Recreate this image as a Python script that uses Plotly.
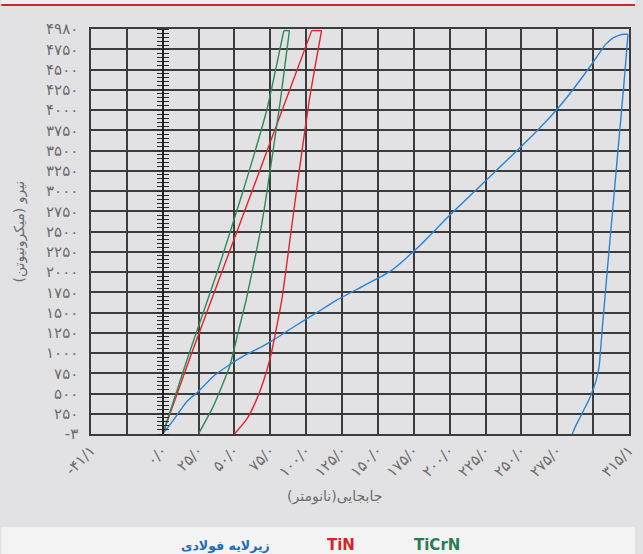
import plotly.graph_objects as go

# ---- data: displacement (nm) vs. force (micro-newton) ----
steel_load_x = [0, 7.7, 16.8, 24.9, 35.2, 46.6, 58, 69.5, 77.5, 92, 107.3, 121, 140, 158.8, 180, 200, 230, 258.4, 274.4, 285.9, 299.6, 308.7, 314, 318.5, 321.5, 324.3]
steel_load_y = [0, 177, 402, 526, 711, 855, 979, 1081, 1164, 1330, 1498, 1650, 1830, 2010, 2340, 2700, 3210, 3698, 4000, 4250, 4580, 4810, 4890, 4925, 4935, 4935]
steel_unload_x = [324.3, 321.6, 318.4, 314.2, 310.1, 306.5, 304.2, 302.6, 300.2, 297, 293.6, 290.6, 288.3, 286.5, 285.5]
steel_unload_y = [4935, 4350, 3716, 2880, 2069, 1330, 835, 700, 560, 420, 300, 195, 115, 45, 0]

tin_load_x = [0, 20.2, 41.2, 62.3, 83.3, 103.8]
tin_load_y = [0, 1000, 2000, 3000, 4000, 4980]
tin_top_x = [103.8, 110.7]
tin_top_y = [4980, 4980]
tin_unload_x = [110.7, 102.2, 94.6, 89.6, 83.0, 75.2, 69.8, 64.8, 58.8, 50]
tin_unload_y = [4980, 4127, 3180, 2522, 1658, 958, 630, 400, 190, 0]

ticrn_load_x = [0, 18.5, 38, 56, 72.5, 84.4]
ticrn_load_y = [0, 1000, 2000, 3000, 4000, 4980]
ticrn_top_x = [84.4, 88.3]
ticrn_top_y = [4980, 4980]
ticrn_unload_x = [88.3, 82.1, 71.8, 68.3, 58.2, 53, 46.6, 35.2, 24.9]
ticrn_unload_y = [4980, 4127, 2893, 2522, 1658, 1288, 834, 341, 0]

# ---- axes: tick positions and Persian tick labels ----
x_ticks = [-50, -25, 0, 25, 50, 75, 100, 125, 150, 175, 200, 225, 250, 275, 300, 325]
x_labels = ["-۴۱/۱", "", "۰/۰", "۲۵/۰", "۵۰/۰", "۷۵/۰", "۱۰۰/۰", "۱۲۵/۰", "۱۵۰/۰",
            "۱۷۵/۰", "۲۰۰/۰", "۲۲۵/۰", "۲۵۰/۰", "۲۷۵/۰", "", "۳۱۵/۱"]
y_ticks = [0, 250, 500, 750, 1000, 1250, 1500, 1750, 2000, 2250, 2500, 2750, 3000,
           3250, 3500, 3750, 4000, 4250, 4500, 4750, 5000]
y_labels = ["-۳", "۲۵۰", "۵۰۰", "۷۵۰", "۱۰۰۰", "۱۲۵۰", "۱۵۰۰", "۱۷۵۰", "۲۰۰۰", "۲۲۵۰",
            "۲۵۰۰", "۲۷۵۰", "۳۰۰۰", "۳۲۵۰", "۳۵۰۰", "۳۷۵۰", "۴۰۰۰", "۴۲۵۰", "۴۵۰۰", "۴۷۵۰", "۴۹۸۰"]

x_title = "جابجایی(نانومتر)"
y_title = "نیرو (میکرونیوتن)"
legend_names = ["زیرلایه فولادی", "TiN", "TiCrN"]

BLUE, RED, GREEN = "#2a84d4", "#e2252b", "#2e8a5a"
LEGEND_COLORS = ["#1f6db5", "#d8222a", "#2b7d50"]
LEGEND_SIZES = [12.5, 15, 15]
GRID = "#3c3c3c"
TEXT = "#6c6c6c"
FONT = "DejaVu Sans"

W, H = 643, 554
ML, MR, MT, MB = 91, 6, 29, 120
PW, PH = W - ML - MR, H - MT - MB


def px_x(px):
    return (px - ML) / PW


def px_y(py):
    return (H - MB - py) / PH


X_RANGE = [-50, 325]
Y_RANGE = [0, 5000]

fig = go.Figure()


def add_curve(xs, ys, color, smoothing=0.5):
    fig.add_trace(go.Scatter(x=xs, y=ys, mode="lines", showlegend=False,
                             line=dict(color=color, width=1.4, shape="spline", smoothing=smoothing),
                             hoverinfo="skip"))


add_curve(steel_load_x, steel_load_y, BLUE)
add_curve(steel_unload_x, steel_unload_y, BLUE, smoothing=0.35)
add_curve(tin_load_x, tin_load_y, RED)
add_curve(tin_top_x, tin_top_y, RED)
add_curve(tin_unload_x, tin_unload_y, RED)
add_curve(ticrn_load_x, ticrn_load_y, GREEN)
add_curve(ticrn_top_x, ticrn_top_y, GREEN)
add_curve(ticrn_unload_x, ticrn_unload_y, GREEN)

zero_pos = (0 - X_RANGE[0]) / (X_RANGE[1] - X_RANGE[0])
# invisible traces so the zero-line axes are rendered
for ax in ("y2", "y3"):
    fig.add_trace(go.Scatter(x=[0], y=[0], yaxis=ax, mode="markers",
                             marker=dict(opacity=0), showlegend=False, hoverinfo="skip"))

zero_axis = dict(range=Y_RANGE, overlaying="y", anchor="free", position=zero_pos,
                 showgrid=False, zeroline=False, showticklabels=False,
                 tickmode="linear", tick0=0, dtick=50, ticks="outside", ticklen=5,
                 tickwidth=1.1, tickcolor="#2a2a2a")

fig.update_layout(
    width=W, height=H,
    margin=dict(l=ML, r=MR, t=MT, b=MB),
    paper_bgcolor="#e2e2e4",
    plot_bgcolor="#e2e2e4",
    font=dict(family=FONT, color=TEXT, size=12),
    showlegend=False,
    xaxis=dict(range=X_RANGE, tickmode="array", tickvals=x_ticks, ticktext=x_labels,
               tickangle=-45, showgrid=True, gridcolor=GRID, gridwidth=1.5,
               showline=True, linecolor=GRID, linewidth=1.5, mirror=True,
               zeroline=False, ticks="", ticklabeloverflow="allow",
               tickfont=dict(size=15, color=TEXT)),
    yaxis=dict(range=Y_RANGE, tickmode="array", tickvals=y_ticks, ticktext=y_labels,
               showgrid=True, gridcolor=GRID, gridwidth=1.5,
               showline=True, linecolor=GRID, linewidth=1.5, mirror=True,
               zeroline=False, ticks="", ticklabelstandoff=8, ticklabeloverflow="allow",
               tickfont=dict(size=15, color=TEXT)),
    yaxis2=dict(zero_axis, side="left", showline=True, linecolor="#222", linewidth=2),
    yaxis3=dict(zero_axis, side="right", showline=False),
)

# page bands: light strip at the top edge, red rule, light legend strip
fig.add_shape(type="rect", xref="paper", yref="paper", layer="below",
              x0=px_x(0), x1=px_x(W), y0=px_y(0), y1=px_y(4), fillcolor="#efefef", line_width=0)
fig.add_shape(type="line", xref="paper", yref="paper",
              x0=px_x(0), x1=px_x(W), y0=px_y(5), y1=px_y(5), line=dict(color="#d0252b", width=2))
fig.add_shape(type="rect", xref="paper", yref="paper", layer="below",
              x0=px_x(0), x1=px_x(W), y0=px_y(527), y1=px_y(H), fillcolor="#f3f3f3", line_width=0)

# axis titles
fig.add_annotation(text=y_title, xref="paper", yref="paper", x=px_x(18), y=0.5,
                   textangle=-90, showarrow=False, font=dict(size=14, color=TEXT),
                   xanchor="center", yanchor="middle")
fig.add_annotation(text=x_title, xref="paper", yref="paper", x=px_x(338), y=px_y(497),
                   showarrow=False, font=dict(size=14, color=TEXT),
                   xanchor="center", yanchor="middle")

# colour-coded legend text
legend_x = [227, 345, 442]
for name, col, sz, lx in zip(legend_names, LEGEND_COLORS, LEGEND_SIZES, legend_x):
    fig.add_annotation(text=f"<b>{name}</b>", xref="paper", yref="paper", x=px_x(lx), y=px_y(545),
                       showarrow=False, font=dict(size=sz, color=col),
                       xanchor="center", yanchor="middle")

fig.write_html("out.html")
